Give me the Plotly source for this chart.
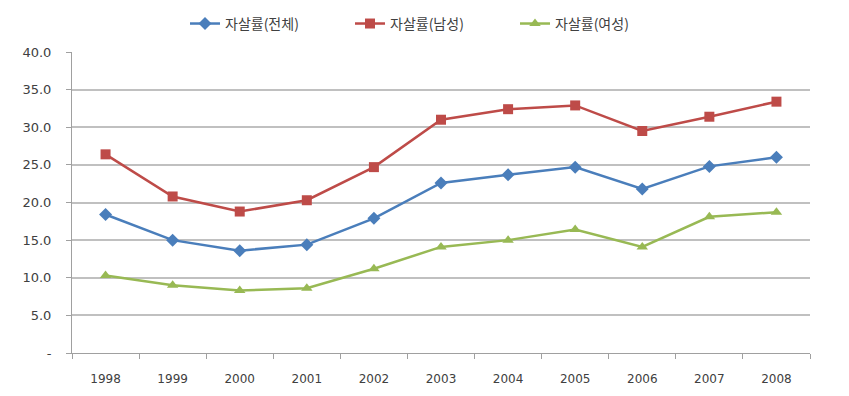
import plotly.graph_objects as go

years = ["1998", "1999", "2000", "2001", "2002", "2003", "2004", "2005", "2006", "2007", "2008"]
total = [18.4, 15.0, 13.6, 14.4, 17.9, 22.6, 23.7, 24.7, 21.8, 24.8, 26.0]
male = [26.4, 20.8, 18.8, 20.3, 24.7, 31.0, 32.4, 32.9, 29.5, 31.4, 33.4]
female = [10.3, 9.0, 8.3, 8.6, 11.2, 14.1, 15.0, 16.4, 14.1, 18.1, 18.7]
ytickvals = [0, 5, 10, 15, 20, 25, 30, 35, 40]
yticktext = ["-", "5.0", "10.0", "15.0", "20.0", "25.0", "30.0", "35.0", "40.0"]

series = [
    ("자살률(전체)", total, "#4a7ebb", "diamond", 10),
    ("자살률(남성)", male, "#be4b48", "square", 10),
    ("자살률(여성)", female, "#98b954", "triangle-up", 10),
]

fig = go.Figure()
for name, vals, color, sym, size in series:
    fig.add_trace(go.Scatter(
        x=years, y=vals, name=name, mode="lines+markers",
        line=dict(color=color, width=2.5),
        marker=dict(symbol=sym, size=size, color=color),
    ))

fig.update_layout(
    width=849, height=396,
    margin=dict(l=72, r=39, t=52, b=43, autoexpand=False),
    paper_bgcolor="white", plot_bgcolor="white",
    font=dict(family="Noto Sans CJK KR, Noto Sans, sans-serif", color="#404040", size=11),
    legend=dict(orientation="h", xref="container", x=185 / 849, xanchor="left",
                yref="container", y=0.98, yanchor="top",
                font=dict(size=14, color="#404040"),
                itemwidth=30, entrywidth=120, entrywidthmode="pixels"),
    showlegend=True,
)
fig.update_xaxes(
    type="category", tickson="boundaries", ticks="outside", ticklen=5,
    tickcolor="#a0a0a0", showline=True, linecolor="#a0a0a0", linewidth=1,
    showgrid=False, ticklabelstandoff=15, automargin=False,
    tickfont=dict(size=12, family="DejaVu Sans, sans-serif", color="#404040"),
    range=[-0.5, 10.5],
)
fig.update_yaxes(
    range=[0, 40], tickvals=ytickvals, ticktext=yticktext,
    ticks="outside", ticklen=5, tickcolor="#a0a0a0",
    showline=True, linecolor="#a0a0a0", linewidth=1,
    showgrid=True, gridcolor="#c0c0c0", gridwidth=1.5, zeroline=False,
    ticklabelstandoff=12, automargin=False,
    tickfont=dict(size=13, family="DejaVu Sans, sans-serif", color="#404040"),
)

fig.write_html("out.html")
